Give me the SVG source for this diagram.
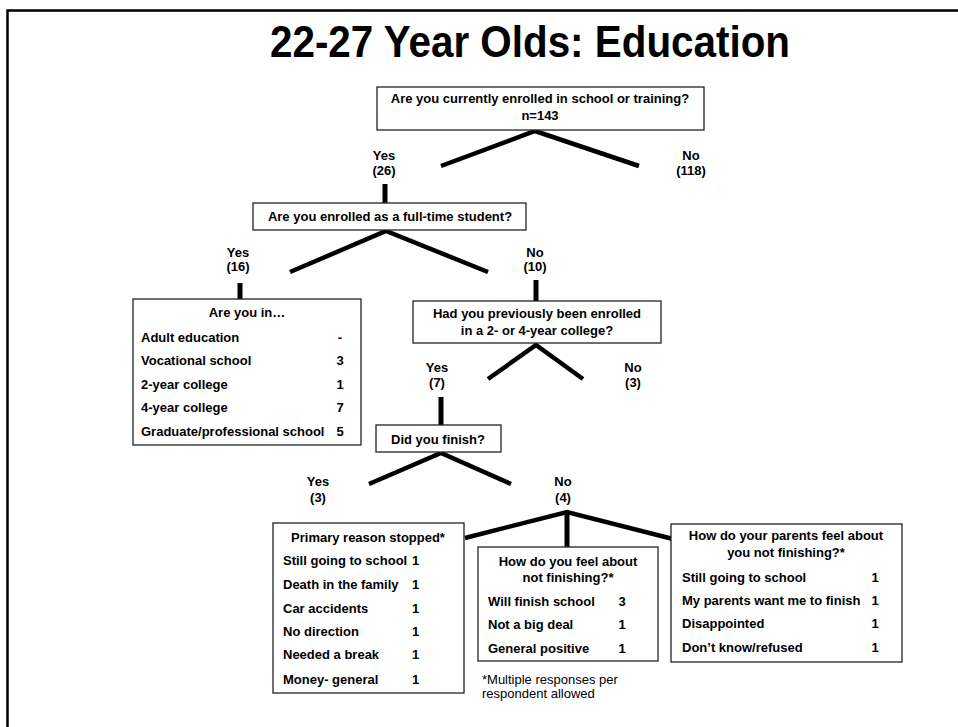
<svg xmlns="http://www.w3.org/2000/svg" width="958" height="727" viewBox="0 0 958 727">
<style>
  text { font-family: "Liberation Sans", Arial, sans-serif; font-size: 13px; font-weight: bold; fill: #000; }
  .c { text-anchor: middle; }
  .n { font-weight: normal; }
  .box { fill: #fff; stroke: #222; stroke-width: 1.3; }
  .ln { fill: none; stroke: #000; stroke-width: 4.5; stroke-linecap: butt; stroke-linejoin: miter; }
  .vl { fill: none; stroke: #000; stroke-width: 5; }
  .title { font-size: 44px; }
</style>
<rect width="958" height="727" fill="#fff"/>
<path d="M7.5,727 V10.5 H958" fill="none" stroke="#000" stroke-width="2.5"/>
<text class="title c" x="530" y="57" textLength="520" lengthAdjust="spacingAndGlyphs">22-27 Year Olds:  Education</text>

<g id="connectors">
  <polyline class="ln" points="441,166 535,131 639,166"/>
  <line class="vl" x1="385" y1="184" x2="385" y2="203"/>
  <polyline class="ln" points="290,272 386,231 488,272"/>
  <line class="vl" x1="240" y1="283" x2="240" y2="299"/>
  <line class="vl" x1="536" y1="280" x2="536" y2="301"/>
  <polyline class="ln" points="488,379 536,345 583,379"/>
  <line class="vl" x1="441" y1="397" x2="441" y2="425"/>
  <polyline class="ln" points="369,484 441,453 511,484"/>
  <polyline class="ln" points="465,538 567,512 673,539"/>
  <line class="vl" x1="567" y1="512" x2="567" y2="547"/>
</g>

<g id="q-enrolled">
  <rect class="box" x="377" y="87" width="327" height="43"/>
  <text class="c" x="540" y="103">Are you currently enrolled in school or training?</text>
  <text class="c" x="540" y="120">n=143</text>
</g>
<g id="yes-26"><text class="c" x="384" y="160">Yes</text><text class="c" x="384" y="175">(26)</text></g>
<g id="no-118"><text class="c" x="691" y="160">No</text><text class="c" x="691" y="175">(118)</text></g>

<g id="q-fulltime">
  <rect class="box" x="253" y="203" width="273" height="27"/>
  <text class="c" x="390" y="221">Are you enrolled as a full-time student?</text>
</g>
<g id="yes-16"><text class="c" x="238" y="257">Yes</text><text class="c" x="238" y="271">(16)</text></g>
<g id="no-10"><text class="c" x="535" y="257">No</text><text class="c" x="535" y="271">(10)</text></g>

<g id="are-you-in">
  <rect class="box" x="133" y="299" width="228" height="146"/>
  <text class="c" x="247" y="317">Are you in…</text>
  <text x="141" y="342">Adult education</text><text class="c" x="340" y="342">-</text>
  <text x="141" y="365">Vocational school</text><text class="c" x="340" y="365">3</text>
  <text x="141" y="389">2-year college</text><text class="c" x="340" y="389">1</text>
  <text x="141" y="412">4-year college</text><text class="c" x="340" y="412">7</text>
  <text x="141" y="436">Graduate/professional school</text><text class="c" x="340" y="436">5</text>
</g>

<g id="q-previous">
  <rect class="box" x="413" y="301" width="248" height="42"/>
  <text class="c" x="537" y="318">Had you previously been enrolled</text>
  <text class="c" x="537" y="335">in a 2- or 4-year college?</text>
</g>
<g id="yes-7"><text class="c" x="437" y="372">Yes</text><text class="c" x="437" y="387">(7)</text></g>
<g id="no-3"><text class="c" x="633" y="372">No</text><text class="c" x="633" y="387">(3)</text></g>

<g id="q-finish">
  <rect class="box" x="376" y="425" width="125" height="27"/>
  <text class="c" x="438" y="444">Did you finish?</text>
</g>
<g id="yes-3"><text class="c" x="318" y="486">Yes</text><text class="c" x="318" y="502">(3)</text></g>
<g id="no-4"><text class="c" x="563" y="486">No</text><text class="c" x="563" y="502">(4)</text></g>

<g id="reason-stopped">
  <rect class="box" x="273" y="523" width="191" height="170"/>
  <text class="c" x="368" y="542">Primary reason stopped*</text>
  <text x="283" y="565">Still going to school</text><text x="412" y="565">1</text>
  <text x="283" y="589">Death in the family</text><text x="412" y="589">1</text>
  <text x="283" y="613">Car accidents</text><text x="412" y="613">1</text>
  <text x="283" y="636">No direction</text><text x="412" y="636">1</text>
  <text x="283" y="659">Needed a break</text><text x="412" y="659">1</text>
  <text x="283" y="684">Money- general</text><text x="412" y="684">1</text>
</g>

<g id="feel-not-finishing">
  <rect class="box" x="478" y="547" width="180" height="114"/>
  <text class="c" x="568" y="566">How do you feel about</text>
  <text class="c" x="568" y="582">not finishing?*</text>
  <text x="488" y="606">Will finish school</text><text class="c" x="622" y="606">3</text>
  <text x="488" y="629">Not a big deal</text><text class="c" x="622" y="629">1</text>
  <text x="488" y="653">General positive</text><text class="c" x="622" y="653">1</text>
</g>

<g id="parents-feel">
  <rect class="box" x="671" y="524" width="231" height="138"/>
  <text class="c" x="786" y="540">How do your parents feel about</text>
  <text class="c" x="786" y="557">you not finishing?*</text>
  <text x="682" y="582">Still going to school</text><text class="c" x="875" y="582">1</text>
  <text x="682" y="605">My parents want me to finish</text><text class="c" x="875" y="605">1</text>
  <text x="682" y="628">Disappointed</text><text class="c" x="875" y="628">1</text>
  <text x="682" y="652">Don’t know/refused</text><text class="c" x="875" y="652">1</text>
</g>

<g id="footnote">
  <text class="n" x="482" y="684">*Multiple responses per</text>
  <text class="n" x="482" y="698">respondent allowed</text>
</g>
</svg>
